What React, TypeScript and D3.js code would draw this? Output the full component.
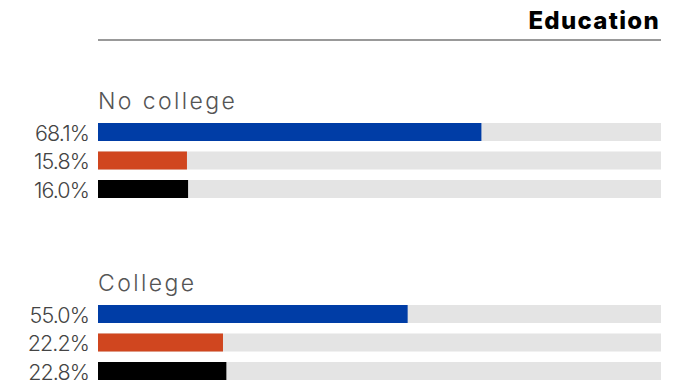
import React from "react";
import * as d3 from "d3";

const title = "Education";
const groups = ["No college", "College"];
const series = ["a", "b", "c"];
const noCollege = [68.1, 15.8, 16.0];
const college = [55.0, 22.2, 22.8];
const colors = ["#003DA6", "#D0461F", "#000000"];

const W = 699;
const H = 385;

export default function App() {
  const x = d3.scaleLinear().domain([0, 100]).range([98, 661]);
  const gy = d3.scalePoint<string>().domain(groups).range([109, 291]);
  const data = [noCollege, college];
  const bh = 18;
  return (
    <svg width={W} height={H} style={{ position: "absolute", left: 0, top: 0 }}>
      <text x={660} y={29} textAnchor="end" fontFamily="Inter" fontWeight={800} fontSize={24} letterSpacing={1.3} fill="#000">
        {title}
      </text>
      <line x1={98} x2={661} y1={40} y2={40} stroke="#777" strokeWidth={1.3} />
      {groups.map((g, gi) => {
        const off = (gy(g) as number) - 109;
        return (
          <g key={g} transform={`translate(0,${off})`}>
            <text x={98} y={109} fontFamily="Inter" fontWeight={300} fontSize={23} letterSpacing={2.4} fill="#555">
              {g}
            </text>
            {series.map((s, si) => {
              const v = data[gi][si];
              const y0 = 123 + si * 28.5;
              return (
                <g key={s}>
                  <rect x={x(0)} y={y0} width={x(100) - x(0)} height={bh} fill="#E4E4E4" />
                  <rect x={x(0)} y={y0} width={x(v) - x(0)} height={bh} fill={colors[si]} />
                  <text x={89} y={y0 + bh - 0.5} textAnchor="end" fontFamily="Inter" fontWeight={300} fontSize={21.5} letterSpacing={-0.9} fill="#444">
                    {v.toFixed(1) + "%"}
                  </text>
                </g>
              );
            })}
          </g>
        );
      })}
    </svg>
  );
}
